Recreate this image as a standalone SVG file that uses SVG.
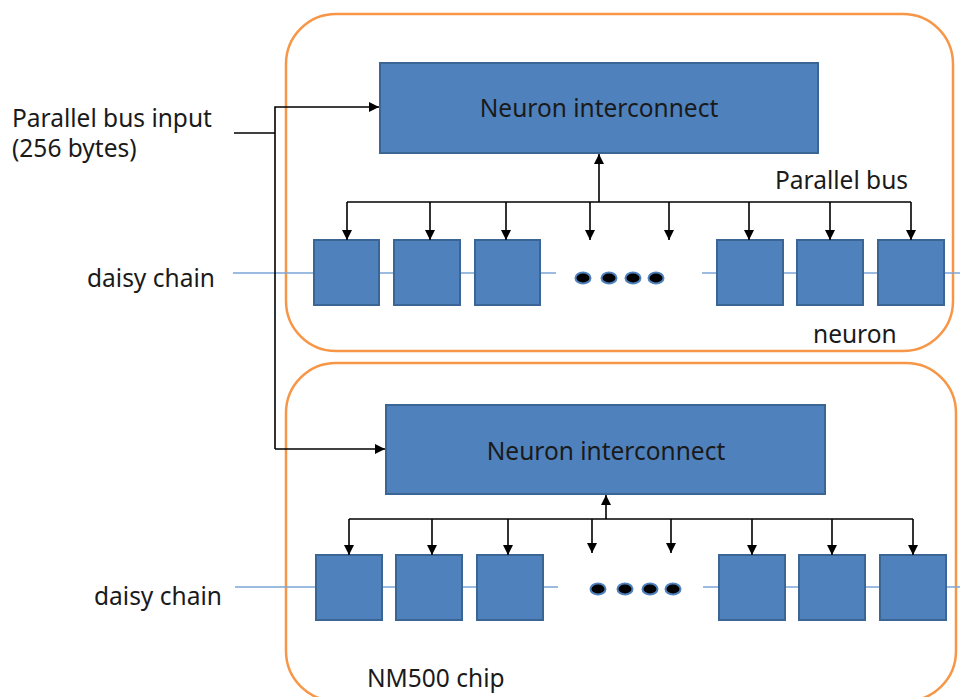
<svg xmlns="http://www.w3.org/2000/svg" width="960" height="697" viewBox="0 0 960 697">
  <style>
    .chip { fill: none; stroke: #F79646; stroke-width: 2.5; }
    .blk { fill: #4F81BD; stroke: #3A6594; stroke-width: 2; }
    .chain { stroke: #7BA4D6; stroke-width: 1.5; fill: none; }
    .wire { stroke: #000; stroke-width: 1.6; fill: none; }
    .dot { fill: #000; stroke: #4F81BD; stroke-width: 2; }
    text { font-family: "Noto Sans", "Liberation Sans", sans-serif; font-size: 24.5px; fill: #1a1a1a; }
  </style>
  <defs>
    <marker id="arr" viewBox="0 0 10 10" refX="10" refY="5" markerWidth="10" markerHeight="10" markerUnits="userSpaceOnUse" orient="auto">
      <path d="M0,0 L10,5 L0,10 z" fill="#000"/>
    </marker>
  </defs>

  <rect width="960" height="697" fill="#fff"/>

  <!-- chip outlines -->
  <g id="chip-top">
    <rect class="chip" x="286" y="14" width="667" height="337" rx="50" ry="50"/>
    <text x="813" y="343">neuron</text>
  </g>
  <g id="chip-bottom">
    <rect class="chip" x="286" y="363" width="670" height="338" rx="50" ry="50"/>
    <text x="367" y="687">NM500 chip</text>
  </g>

  <!-- daisy chains -->
  <g id="chain-top">
    <text x="87" y="287">daisy chain</text>
    <line class="chain" x1="233" y1="273" x2="556" y2="273"/>
    <line class="chain" x1="702" y1="273" x2="960" y2="273"/>
  </g>
  <g id="chain-bottom">
    <text x="94" y="605">daisy chain</text>
    <line class="chain" x1="235" y1="587" x2="558" y2="587"/>
    <line class="chain" x1="703" y1="587" x2="960" y2="587"/>
  </g>

  <!-- input label -->
  <g id="bus-input">
    <text x="12" y="127">Parallel bus input</text>
    <text x="12" y="157">(256 bytes)</text>
  </g>

  <!-- interconnect blocks -->
  <g id="interconnect-top">
    <rect class="blk" x="380" y="63" width="438" height="90"/>
    <text x="599" y="117" text-anchor="middle">Neuron interconnect</text>
  </g>
  <g id="interconnect-bottom">
    <rect class="blk" x="386" y="405" width="439" height="89"/>
    <text x="606" y="460" text-anchor="middle">Neuron interconnect</text>
  </g>

  <text x="775" y="189">Parallel bus</text>

  <!-- neurons, top chip -->
  <g id="neurons-top">
    <rect class="blk" x="314" y="240" width="65" height="65"/>
    <rect class="blk" x="394" y="240" width="66" height="65"/>
    <rect class="blk" x="475" y="240" width="65" height="65"/>
    <rect class="blk" x="717" y="240" width="66" height="65"/>
    <rect class="blk" x="797" y="240" width="66" height="65"/>
    <rect class="blk" x="878" y="240" width="66" height="65"/>
    <ellipse class="dot" cx="583" cy="278" rx="7.5" ry="5.5"/>
    <ellipse class="dot" cx="609" cy="278" rx="7.5" ry="5.5"/>
    <ellipse class="dot" cx="633" cy="278" rx="7.5" ry="5.5"/>
    <ellipse class="dot" cx="656" cy="278" rx="7.5" ry="5.5"/>
  </g>

  <!-- neurons, bottom chip -->
  <g id="neurons-bottom">
    <rect class="blk" x="316" y="555" width="66" height="65"/>
    <rect class="blk" x="396" y="555" width="66" height="65"/>
    <rect class="blk" x="477" y="555" width="66" height="65"/>
    <rect class="blk" x="719" y="555" width="66" height="65"/>
    <rect class="blk" x="799" y="555" width="66" height="65"/>
    <rect class="blk" x="880" y="555" width="66" height="65"/>
    <ellipse class="dot" cx="598" cy="589" rx="7.5" ry="5.5"/>
    <ellipse class="dot" cx="625" cy="589" rx="7.5" ry="5.5"/>
    <ellipse class="dot" cx="650" cy="589" rx="7.5" ry="5.5"/>
    <ellipse class="dot" cx="673" cy="589" rx="7.5" ry="5.5"/>
  </g>

  <!-- connectors -->
  <g id="connectors">
    <!-- input fan-out -->
    <path class="wire" d="M234,133 H275"/>
    <path class="wire" d="M275,449 V107 H379" marker-end="url(#arr)"/>
    <path class="wire" d="M275,449 H385" marker-end="url(#arr)"/>

    <!-- top parallel bus -->
    <path class="wire" d="M347,202 H911"/>
    <path class="wire" d="M599,202 V154" marker-end="url(#arr)"/>
    <path class="wire" d="M347,202 V240" marker-end="url(#arr)"/>
    <path class="wire" d="M430,202 V240" marker-end="url(#arr)"/>
    <path class="wire" d="M506,202 V240" marker-end="url(#arr)"/>
    <path class="wire" d="M590,202 V240" marker-end="url(#arr)"/>
    <path class="wire" d="M669,202 V240" marker-end="url(#arr)"/>
    <path class="wire" d="M749,202 V240" marker-end="url(#arr)"/>
    <path class="wire" d="M830,202 V240" marker-end="url(#arr)"/>
    <path class="wire" d="M911,202 V240" marker-end="url(#arr)"/>

    <!-- bottom parallel bus -->
    <path class="wire" d="M349,519 H913"/>
    <path class="wire" d="M606,519 V495" marker-end="url(#arr)"/>
    <path class="wire" d="M349,519 V555" marker-end="url(#arr)"/>
    <path class="wire" d="M432,519 V555" marker-end="url(#arr)"/>
    <path class="wire" d="M508,519 V555" marker-end="url(#arr)"/>
    <path class="wire" d="M592,519 V553" marker-end="url(#arr)"/>
    <path class="wire" d="M671,519 V553" marker-end="url(#arr)"/>
    <path class="wire" d="M752,519 V555" marker-end="url(#arr)"/>
    <path class="wire" d="M832,519 V555" marker-end="url(#arr)"/>
    <path class="wire" d="M913,519 V555" marker-end="url(#arr)"/>
  </g>
</svg>
